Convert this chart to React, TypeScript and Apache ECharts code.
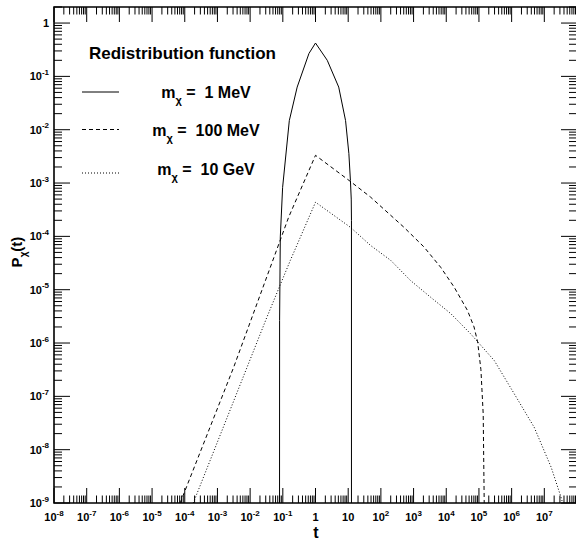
import React, { useEffect, useRef } from 'react';
import * as echarts from 'echarts';

const FONT = '"Liberation Sans", Arial, Helvetica, sans-serif';

// ---- axis ticks / labels ----
const xLabelExponents = [-8, -7, -6, -5, -4, -3, -2, -1, 0, 1, 2, 3, 4, 5, 6, 7];
const yLabelExponents = [-9, -8, -7, -6, -5, -4, -3, -2, -1, 0];
const xDecadeExponents = [-8, -7, -6, -5, -4, -3, -2, -1, 0, 1, 2, 3, 4, 5, 6, 7, 8];
const yDecadeExponents = [-9, -8, -7, -6, -5, -4, -3, -2, -1, 0];
const minorMultipliers = [2, 3, 4, 5, 6, 7, 8, 9];
const xMin = 1e-8;
const xMax = 1e8;
const yMin = 1e-9;
const yMax = 2;

// ---- curves (t, P) ----
const tMeV1 = [0.0794, 0.0798, 0.0838, 0.0986, 0.158, 0.275, 0.631, 1, 2.29, 5.13, 8.32, 10.5, 11.7, 12.4, 12.6, 12.6];
const pMeV1 = [1e-9, 2.63e-6, 9.77e-5, 8.3e-4, 0.0148, 0.063, 0.269, 0.422, 0.2, 0.063, 0.0148, 3.55e-3, 1.12e-3, 5.0e-4, 2.0e-4, 1e-9];

const tMeV100 = [7.24e-5, 3.16e-3, 0.151, 1, 11.7, 48.3, 508, 2090, 6760, 1.74e4, 4.47e4, 7.08e4, 9.12e4, 1.15e5, 1.35e5, 1.45e5];
const pMeV100 = [1e-9, 3.55e-7, 2.29e-4, 3.31e-3, 1.07e-3, 5.45e-4, 1.48e-4, 6.31e-5, 2.63e-5, 1.12e-5, 4.07e-6, 2.0e-6, 1.05e-6, 3.16e-7, 4.68e-8, 1e-9];

const tGeV10 = [1.82e-4, 0.0324, 0.17, 1, 11.7, 48.3, 200, 813, 3310, 1.38e4, 5.62e4, 2.95e5, 1.2e6, 4.9e6, 1.62e7, 3.24e7, 3.63e7];
const pGeV10 = [1e-9, 3.02e-6, 3.55e-5, 4.37e-4, 1.48e-4, 6.76e-5, 3.55e-5, 1.48e-5, 7.24e-6, 3.55e-6, 1.48e-6, 4.68e-7, 1.12e-7, 2.63e-8, 4.68e-9, 1.29e-9, 1e-9];

const legendTitle = 'Redistribution function';
const legendMasses = ['1 MeV', '100 MeV', '10 GeV'];
const xTitle = 't';

const zip = (a: number[], b: number[]) => a.map((v, i) => [v, b[i]]);

const decadeLabel = (e: number) => (e === 0 ? '{b|1}' : e === 1 ? '{b|10}' : `{b|10}{s|${e}}`);

const labelRich = {
  b: { fontSize: 11, fontWeight: 'bold', fontFamily: FONT, fill: '#000', color: '#000', lineHeight: 16 },
  s: { fontSize: 8, fontWeight: 'bold', fontFamily: FONT, fill: '#000', color: '#000', verticalAlign: 'top' },
};

const xMinorTicks: number[] = [];
xDecadeExponents.slice(0, -1).forEach((e) => minorMultipliers.forEach((k) => xMinorTicks.push(k * Math.pow(10, e))));
const yMinorTicks: number[] = [];
yDecadeExponents.forEach((e) =>
  minorMultipliers.forEach((k) => {
    const v = k * Math.pow(10, e);
    if (v <= yMax) yMinorTicks.push(v);
  })
);
const xMajorTicks = xDecadeExponents.map((e) => Math.pow(10, e));
const yMajorTicks = yDecadeExponents.map((e) => Math.pow(10, e));

const tickStyle = { stroke: '#000', lineWidth: 1 };

function xTickSeries(values: number[], len: number) {
  return {
    type: 'custom',
    coordinateSystem: 'cartesian2d',
    silent: true,
    clip: false,
    z: 5,
    data: values.map((v) => [v, 1]),
    renderItem: (params: any, api: any) => {
      const cs = params.coordSys;
      const px = api.coord([api.value(0), 1])[0];
      const bottom = cs.y + cs.height;
      return {
        type: 'group',
        children: [
          { type: 'line', shape: { x1: px, y1: bottom, x2: px, y2: bottom - len }, style: tickStyle },
          { type: 'line', shape: { x1: px, y1: cs.y, x2: px, y2: cs.y + len }, style: tickStyle },
        ],
      };
    },
  };
}

function yTickSeries(values: number[], len: number) {
  return {
    type: 'custom',
    coordinateSystem: 'cartesian2d',
    silent: true,
    clip: false,
    z: 5,
    data: values.map((v) => [1, v]),
    renderItem: (params: any, api: any) => {
      const cs = params.coordSys;
      const py = api.coord([1, api.value(1)])[1];
      const right = cs.x + cs.width;
      return {
        type: 'group',
        children: [
          { type: 'line', shape: { x1: cs.x, y1: py, x2: cs.x + len, y2: py }, style: tickStyle },
          { type: 'line', shape: { x1: right, y1: py, x2: right - len, y2: py }, style: tickStyle },
        ],
      };
    },
  };
}

const xLabelSeries = {
  type: 'custom',
  coordinateSystem: 'cartesian2d',
  silent: true,
  clip: false,
  data: xLabelExponents.map((e) => [Math.pow(10, e), 1]),
  renderItem: (params: any, api: any) => {
    const cs = params.coordSys;
    const px = api.coord([api.value(0), 1])[0];
    return {
      type: 'text',
      x: px,
      y: cs.y + cs.height + 6,
      style: {
        text: decadeLabel(xLabelExponents[params.dataIndex]),
        rich: labelRich,
        align: 'center',
        verticalAlign: 'top',
      },
    };
  },
};

const yLabelSeries = {
  type: 'custom',
  coordinateSystem: 'cartesian2d',
  silent: true,
  clip: false,
  data: yLabelExponents.map((e) => [1, Math.pow(10, e)]),
  renderItem: (params: any, api: any) => {
    const cs = params.coordSys;
    const py = api.coord([1, api.value(1)])[1];
    return {
      type: 'text',
      x: cs.x - 5,
      y: py,
      style: {
        text: decadeLabel(yLabelExponents[params.dataIndex]),
        rich: labelRich,
        align: 'right',
        verticalAlign: 'middle',
      },
    };
  },
};

const legendRich = {
  m: { fontSize: 16, fontWeight: 'bold', fontFamily: FONT, fill: '#000', lineHeight: 26 },
  c: { fontSize: 11, fontWeight: 'bold', fontFamily: FONT, fill: '#000', verticalAlign: 'bottom' },
};

const legendRows = [
  { y: 92, lineY: 92, dash: null as number[] | null },
  { y: 130, lineY: 129.5, dash: [4, 3] },
  { y: 169, lineY: 173, dash: [1, 2] },
];

export default function App() {
  const ref = useRef<HTMLDivElement>(null);
  useEffect(() => {
    document.body.style.margin = '0';
    if (!ref.current) return;
    const chart = echarts.init(ref.current, undefined, { renderer: 'svg' });
    const lineSeries = (name: string, t: number[], p: number[], type: any) => ({
      name,
      type: 'line',
      data: zip(t, p),
      showSymbol: false,
      symbol: 'none',
      clip: true,
      silent: true,
      z: 3,
      lineStyle: { color: '#000', width: 1, type },
    });
    const graphic: any[] = [
      {
        type: 'text',
        x: 89,
        y: 53,
        style: { text: legendTitle, fontSize: 17, fontWeight: 'bold', fontFamily: FONT, fill: '#000', align: 'left', verticalAlign: 'middle' },
      },
    ];
    legendRows.forEach((r, i) => {
      graphic.push({
        type: 'line',
        shape: { x1: 82, y1: r.lineY, x2: 119, y2: r.lineY },
        style: { stroke: '#000', lineWidth: 1, lineDash: r.dash || undefined },
      });
      graphic.push({
        type: 'text',
        x: 206,
        y: r.y,
        style: {
          text: `{m|m}{c|χ}{m| =  ${legendMasses[i]}}`,
          rich: legendRich,
          align: 'center',
          verticalAlign: 'middle',
        },
      });
    });
    graphic.push({
      type: 'text',
      x: 316,
      y: 532,
      style: { text: xTitle, fontSize: 16, fontWeight: 'bold', fontFamily: FONT, fill: '#000', align: 'center', verticalAlign: 'middle' },
    });
    graphic.push({
      type: 'text',
      x: 16,
      y: 252,
      rotation: Math.PI / 2,
      style: {
        text: '{p|P}{c|χ}{p|(t)}',
        rich: {
          p: { fontSize: 15, fontWeight: 'bold', fontFamily: FONT, fill: '#000', lineHeight: 24 },
          c: { fontSize: 10, fontWeight: 'bold', fontFamily: FONT, fill: '#000', verticalAlign: 'bottom' },
        },
        align: 'center',
        verticalAlign: 'middle',
      },
    });

    const hiddenAxis = {
      axisLine: { show: false },
      axisTick: { show: false },
      axisLabel: { show: false },
      splitLine: { show: false },
      minorTick: { show: false },
      minorSplitLine: { show: false },
    };

    chart.setOption({
      animation: false,
      backgroundColor: '#fff',
      grid: {
        show: true,
        left: 54,
        top: 7,
        width: 523,
        height: 496,
        borderColor: '#000',
        borderWidth: 1.6,
        backgroundColor: 'transparent',
        containLabel: false,
        outerBoundsMode: 'none',
      },
      xAxis: { type: 'log', logBase: 10, min: xMin, max: xMax, ...hiddenAxis },
      yAxis: { type: 'log', logBase: 10, min: yMin, max: yMax, ...hiddenAxis },
      series: [
        lineSeries('1 MeV', tMeV1, pMeV1, 'solid'),
        lineSeries('100 MeV', tMeV100, pMeV100, [4, 3]),
        lineSeries('10 GeV', tGeV10, pGeV10, [1, 2]),
        xTickSeries(xMajorTicks, 15),
        xTickSeries(xMinorTicks, 7.5),
        yTickSeries(yMajorTicks, 16),
        yTickSeries(yMinorTicks, 8),
        xLabelSeries,
        yLabelSeries,
      ],
      graphic,
    });
    return () => chart.dispose();
  }, []);
  return <div ref={ref} style={{ position: 'fixed', left: 0, top: 0, width: 576, height: 539 }} />;
}
